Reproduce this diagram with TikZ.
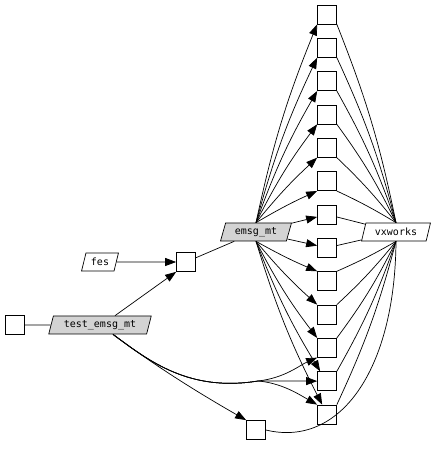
\documentclass[tikz,border=0pt]{standalone}
\usepackage{fontspec}
\setmonofont{DejaVu Sans Mono}
\usetikzlibrary{arrows.meta,shapes.geometric}
\definecolor{grisclair}{RGB}{211,211,211}
\begin{document}
\begin{tikzpicture}[x=1pt,y=1pt]
			\tikzstyle{fleche}=[->,>={Triangle[length=11pt,width=8pt]},line width=0.7pt]
			\tikzstyle{trait}=[line width=0.7pt]
			\tikzstyle{boite}=[draw,line width=0.7pt,fill=white,minimum size=19pt,inner sep=0pt]
			\tikzstyle{fonction}=[draw,line width=0.7pt,trapezium,trapezium left angle=72,trapezium right angle=108,trapezium stretches=true,minimum height=18pt,inner sep=1pt,font=\ttfamily\fontsize{10}{12}\selectfont]
			\useasboundingbox (0,0) rectangle (437,450);
			\def\ColS{327}
			\def\Haut{435.5}
			\def\Pas{33.33}
			% la colonne des fonctions appelees
			\node[boite] (s1) at ({\ColS},{\Haut-(0)*\Pas}) {};
			\node[boite] (s2) at ({\ColS},{\Haut-(1)*\Pas}) {};
			\node[boite] (s3) at ({\ColS},{\Haut-(2)*\Pas}) {};
			\node[boite] (s4) at ({\ColS},{\Haut-(3)*\Pas}) {};
			\node[boite] (s5) at ({\ColS},{\Haut-(4)*\Pas}) {};
			\node[boite] (s6) at ({\ColS},{\Haut-(5)*\Pas}) {};
			\node[boite] (s7) at ({\ColS},{\Haut-(6)*\Pas}) {};
			\node[boite] (s8) at ({\ColS},{\Haut-(7)*\Pas}) {};
			\node[boite] (s9) at ({\ColS},{\Haut-(8)*\Pas}) {};
			\node[boite] (s10) at ({\ColS},{\Haut-(9)*\Pas}) {};
			\node[boite] (s11) at ({\ColS},{\Haut-(10)*\Pas}) {};
			\node[boite] (s12) at ({\ColS},{\Haut-(11)*\Pas}) {};
			\node[boite] (s13) at ({\ColS},{\Haut-(12)*\Pas}) {};
			% les autres noeuds
			\node[fonction,fill=grisclair,minimum width=71pt] (em) at (256,218) {emsg\_mt};
			\node[fonction,fill=white,minimum width=69pt] (vx) at (396,218) {vxworks};
			\node[fonction,fill=white,minimum width=37pt] (fes) at (100,188) {fes};
			\node[boite] (fsq) at (186,188) {};
			\node[boite] (gauche) at (14.5,125) {};
			\node[fonction,fill=grisclair,minimum width=103pt] (test) at (100,125) {test\_emsg\_mt};
			\node[boite] (bas) at (256,20) {};
			\coordinate (j) at (258,69);
			% emsg_mt vers la colonne
			\draw[fleche] (em.north) to[bend left=5] (s1.south west);
			\draw[fleche] (em.north) to[bend left=5] (s2.south west);
			\draw[fleche] (em.north) to[bend left=5] (s3.south west);
			\draw[fleche] (em.north) to[bend left=5] (s4.south west);
			\draw[fleche] (em.north) to[bend left=4] (s5.south west);
			\draw[fleche] (em.north) to[bend left=3] (s6.south west);
			\draw[fleche] (em) -- (s7);
			\draw[fleche] (em) -- (s8);
			\draw[fleche] (em.south) to[bend right=3] (s9.north west);
			\draw[fleche] (em.south) to[bend right=4] (s10.north west);
			\draw[fleche] (em.south) to[bend right=5] (s11.north west);
			\draw[fleche] (em.south) to[bend right=5] ([xshift=3pt]s12.north west);
			\draw[fleche] (em.south) to[bend right=5] ([xshift=5pt]s13.north west);
			% la colonne vers vxworks
			\draw[trait] (s1.south east) to[bend left=5] (vx.north);
			\draw[trait] (s2.south east) to[bend left=5] (vx.north);
			\draw[trait] (s3.south east) to[bend left=5] (vx.north);
			\draw[trait] (s4.south east) to[bend left=5] (vx.north);
			\draw[trait] (s5.south east) to[bend left=4] (vx.north);
			\draw[trait] (s6.south east) to[bend left=3] (vx.north);
			\draw[trait] (s7) -- (vx);
			\draw[trait] (s8) -- (vx);
			\draw[trait] (s9.north east) to[bend right=3] (vx.south);
			\draw[trait] (s10.north east) to[bend right=4] (vx.south);
			\draw[trait] (s11.north east) to[bend right=5] (vx.south);
			\draw[trait] (s12.north east) to[bend right=5] (vx.south);
			\draw[trait] (s13.north east) to[bend right=5] (vx.south);
			\draw[trait] (bas.east) .. controls (340,2) and (395,80) .. (vx.south);
			% partie gauche
			\draw[trait] (gauche) -- (test);
			\draw[fleche] (fes) -- (fsq);
			\draw[fleche] ([xshift=15pt]test.north) -- (fsq.south west);
			\draw[trait] (fsq) -- (em);
			\draw[fleche] ([xshift=13pt]test.south) .. controls (150,88) and (190,62) .. (bas.north west);
			\draw[fleche] ([xshift=13pt]test.south) .. controls (150,88) and (190,58) .. (j) .. controls (285,72) and (300,85) .. (s11.south west);
			\draw[fleche] ([xshift=13pt]test.south) .. controls (150,88) and (190,58) .. (j) -- (s12);
			\draw[fleche] ([xshift=13pt]test.south) .. controls (150,88) and (190,58) .. (j) .. controls (282,67) and (300,55) .. (s13.north west);
		\end{tikzpicture}
\end{document}
